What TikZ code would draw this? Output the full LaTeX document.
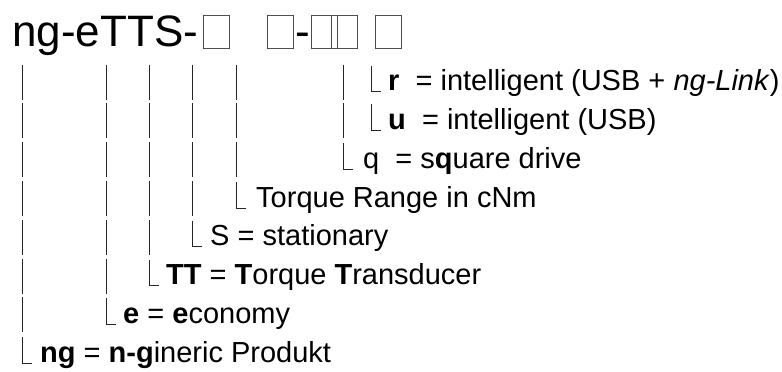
\documentclass[tikz,border=0pt]{standalone}
\usepackage{fontspec}
\setmainfont{Liberation Sans}
\begin{document}
\begin{tikzpicture}[x=1pt,y=-1pt,
  lbl/.style={anchor=base west, inner sep=0pt, font=\fontsize{29}{35}\selectfont},
  ttl/.style={anchor=base west, inner sep=0pt, font=\fontsize{44}{50}\selectfont},
  bar/.style={line width=1pt, draw=black!85},
  tofu/.style={line width=1pt, draw=black!70}]
\useasboundingbox (0,0) rectangle (782,372);
% title
\node[ttl] (title) at (12,46) {ng-eTTS-};
\draw[tofu] (203,15) rectangle (229,48);
\draw[tofu] (267,15) rectangle (293,48);
\node[ttl] (dash) at (295,46) {-};
\draw[tofu] (311,15) rectangle (337,48);
\draw[tofu] (331,15) rectangle (357,48);
\draw[tofu] (375,15) rectangle (401,48);
% bars and corner marks
\foreach \x/\n/\m in {22/7/6,106/6/5,149/5/4,192/4/3,236/3/2,343/2/1} {
  \foreach \i in {0,...,\m} {
    \draw[bar] (\x,{90.6+38.8*\i-26}) -- (\x,{90.6+38.8*\i+9});
  }
  \draw[bar] (\x,{90.6+38.8*\n-25}) -- (\x,{90.6+38.8*\n+1}) -- (\x+10,{90.6+38.8*\n+1});
}
\foreach \i in {0,1} {
  \draw[bar] (371,{90.6+38.8*\i-25}) -- (371,{90.6+38.8*\i+1}) -- (381,{90.6+38.8*\i+1});
}
% texts
\node[lbl] (r) at (388,90.6) {\textbf{r}\ \ = intelligent (USB + \textit{ng-Link})};
\node[lbl] (u) at (388,129.4) {\textbf{u}\ \ = intelligent (USB)};
\node[lbl] (q) at (363,168.2) {q\ \ = s\textbf{q}uare drive};
\node[lbl] (range) at (256,207) {Torque Range in cNm};
\node[lbl] (s) at (210,245.8) {S = stationary};
\node[lbl] (tt) at (166,284.6) {\textbf{TT} = \textbf{T}orque \textbf{T}ransducer};
\node[lbl] (e) at (123,323.4) {\textbf{e} = \textbf{e}conomy};
\node[lbl] (ng) at (40,362.2) {\textbf{ng} = \textbf{n-g}ineric Produkt};
\end{tikzpicture}
\end{document}
